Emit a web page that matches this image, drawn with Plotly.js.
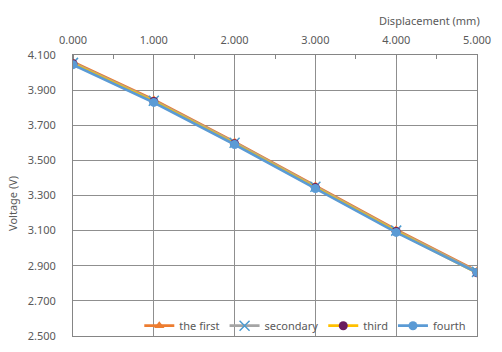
<!DOCTYPE html>
<html>
<head>
<meta charset="utf-8">
<script src="https://cdn.plot.ly/plotly-3.0.1.min.js"></script>
<style>html,body{margin:0;padding:0;background:#fff;}#chart{width:502px;height:352px;}</style>
</head>
<body>
<div id="chart"></div>
<script>
const displacement = [0, 1, 2, 3, 4, 5];
const seriesNames = ["the first", "secondary", "third", "fourth"];
const theFirst  = [4.060, 3.845, 3.605, 3.355, 3.105, 2.870];
const secondary = [4.055, 3.840, 3.600, 3.350, 3.100, 2.865];
const third     = [4.050, 3.835, 3.595, 3.345, 3.095, 2.860];
const fourth    = [4.045, 3.830, 3.590, 3.340, 3.090, 2.862];
const xTitle = "Displacement (mm)";
const yTitle = "Voltage (V)";

const FONT = "Noto Sans, Open Sans, sans-serif";
const txt = "#595959";

const traces = [
  {x: displacement, y: theFirst, name: seriesNames[0], mode: "lines+markers",
   line: {color: "#ED7D31", width: 2.75}, marker: {symbol: "triangle-up", size: 9, color: "#ED7D31"}},
  {x: displacement, y: secondary, name: seriesNames[1], mode: "lines+markers",
   line: {color: "#A5A5A5", width: 2.75}, marker: {symbol: "x-thin-open", size: 10, color: "#4A9BD0", line: {width: 1.5, color: "#4A9BD0"}}},
  {x: displacement, y: third, name: seriesNames[2], mode: "lines+markers",
   line: {color: "#FFC000", width: 2.75}, marker: {symbol: "circle", size: 9, color: "#6A1B5E"}},
  {x: displacement, y: fourth, name: seriesNames[3], mode: "lines+markers",
   line: {color: "#5B9BD5", width: 2.75}, marker: {symbol: "circle", size: 9, color: "#5B9BD5"}}
];

const layout = {
  width: 502, height: 352,
  margin: {l: 73, r: 25, t: 55, b: 14},
  paper_bgcolor: "#fff", plot_bgcolor: "#fff",
  font: {family: FONT, size: 11, color: txt},
  showlegend: true,
  legend: {orientation: "h", x: 0.575, xanchor: "center", y: -0.015, yanchor: "bottom",
           bgcolor: "rgba(0,0,0,0)", font: {family: FONT, size: 11, color: txt}, itemwidth: 30,
           traceorder: "normal"},
  xaxis: {
    side: "top", range: [0, 5], dtick: 1, tick0: 0, tickformat: ".3f",
    showgrid: true, gridcolor: "#8f8f8f", gridwidth: 1,
    showline: true, linecolor: "#858585", linewidth: 1, mirror: true,
    ticks: "outside", ticklen: 6, tickcolor: "rgba(0,0,0,0)", zeroline: false,
    minor: {dtick: 0.5, ticks: "inside", ticklen: 4, tickcolor: "#858585", showgrid: false},
    tickfont: {family: FONT, size: 11, color: txt}, fixedrange: true
  },
  yaxis: {
    range: [2.5, 4.1], dtick: 0.2, tick0: 2.5, tickformat: ".3f",
    showgrid: true, gridcolor: "#8f8f8f", gridwidth: 1,
    showline: true, linecolor: "#858585", linewidth: 1, mirror: true,
    ticks: "outside", ticklen: 14, tickcolor: "rgba(0,0,0,0)", zeroline: false,
    tickfont: {family: FONT, size: 11, color: txt}, fixedrange: true
  },
  annotations: [
    {text: xTitle, xref: "paper", yref: "paper", x: 1.012, y: 1.0 + (55 - 20) / 283,
     xanchor: "right", yanchor: "middle", showarrow: false, font: {family: FONT, size: 11, color: txt}},
    {text: yTitle, xref: "paper", yref: "paper", x: (13 - 73) / 404, y: (338 - 205) / 283,
     xanchor: "center", yanchor: "middle", textangle: -90, showarrow: false, font: {family: FONT, size: 11, color: txt}}
  ]
};

Plotly.newPlot("chart", traces, layout, {displayModeBar: false, staticPlot: true});
</script>
</body>
</html>
